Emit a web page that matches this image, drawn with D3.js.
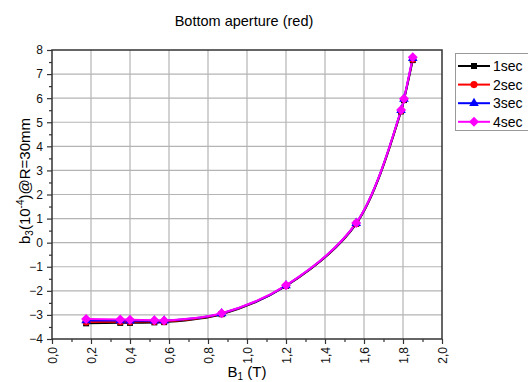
<!DOCTYPE html>
<html>
<head>
<meta charset="utf-8">
<script src="https://cdn.jsdelivr.net/npm/d3@7"></script>
<style>
	body { margin: 0; background: #fff; }
	svg { font-family: "Liberation Sans", Arial, sans-serif; }
</style>
</head>
<body>
<script>
// data
const fieldB = [0.175, 0.35, 0.40, 0.525, 0.575, 0.87, 1.20, 1.56, 1.79, 1.805, 1.85];
const sec1 = [-3.35, -3.33, -3.33, -3.31, -3.30, -2.97, -1.80, 0.78, 5.45, 5.92, 7.58];
const sec2 = [-3.29, -3.28, -3.28, -3.27, -3.27, -2.95, -1.79, 0.80, 5.48, 5.95, 7.62];
const sec3 = [-3.23, -3.23, -3.24, -3.24, -3.24, -2.94, -1.78, 0.81, 5.50, 5.97, 7.66];
const sec4 = [-3.17, -3.19, -3.20, -3.22, -3.23, -2.93, -1.77, 0.82, 5.51, 5.98, 7.70];
const seriesNames = ["1sec", "2sec", "3sec", "4sec"];
const xTicks = [0, 0.2, 0.4, 0.6, 0.8, 1.0, 1.2, 1.4, 1.6, 1.8, 2.0];
const yTicks = [-4, -3, -2, -1, 0, 1, 2, 3, 4, 5, 6, 7, 8];

const w = 528, h = 382,
	  padL = 52, padR = 442, padT = 50, padB = 339;

// wide diamond (square turned 45 degrees)
const wideDiamond = {
	draw(ctx, size) {
		const r = Math.sqrt(size / 2);
		ctx.moveTo(0, -r);
		ctx.lineTo(r, 0);
		ctx.lineTo(0, r);
		ctx.lineTo(-r, 0);
		ctx.closePath();
	}
};

const series = [
	{ name: seriesNames[0], values: sec1, color: "#000000", symbol: d3.symbolSquare, size: 36 },
	{ name: seriesNames[1], values: sec2, color: "#ff0000", symbol: d3.symbolCircle, size: 40 },
	{ name: seriesNames[2], values: sec3, color: "#0000ff", symbol: d3.symbolTriangle, size: 40 },
	{ name: seriesNames[3], values: sec4, color: "#ff00ff", symbol: wideDiamond, size: 50 }
];

const xScale = d3.scaleLinear().domain([0, 2]).range([padL, padR]),
	  yScale = d3.scaleLinear().domain([-4, 8]).range([padB, padT]);

const svg = d3.select("body").append("svg")
	.attr("width", w)
	.attr("height", h);

// grid
svg.append("g")
   .selectAll("line")
   .data(xTicks.slice(1, -1))
   .enter().append("line")
   .attr("x1", d => xScale(d)).attr("x2", d => xScale(d))
   .attr("y1", padT).attr("y2", padB)
   .attr("stroke", "#b4b4b4").attr("stroke-width", 1.2);

svg.append("g")
   .selectAll("line")
   .data(yTicks.slice(1, -1))
   .enter().append("line")
   .attr("x1", padL).attr("x2", padR)
   .attr("y1", d => yScale(d)).attr("y2", d => yScale(d))
   .attr("stroke", "#b4b4b4").attr("stroke-width", 1.2);

// axes
const fmtComma = d => d3.format(".1f")(d).replace(".", ",");

const xAxis = svg.append("g")
	.attr("transform", "translate(0," + padB + ")")
	.call(d3.axisBottom(xScale).tickValues(xTicks).tickFormat(fmtComma).tickSize(5).tickSizeOuter(0));
xAxis.selectAll("text")
	 .attr("transform", "rotate(-90)")
	 .attr("text-anchor", "end")
	 .attr("x", -8).attr("y", 0).attr("dy", "0.35em")
	 .style("font-size", "12px");

svg.append("g")
   .attr("transform", "translate(0," + padB + ")")
   .call(d3.axisBottom(xScale).tickValues(d3.range(0.1, 2, 0.2)).tickFormat("").tickSize(3).tickSizeOuter(0));

const yAxis = svg.append("g")
	.attr("transform", "translate(" + padL + ",0)")
	.call(d3.axisLeft(yScale).tickValues(yTicks).tickSize(5).tickSizeOuter(0));
yAxis.selectAll("text").style("font-size", "12px").attr("x", -9);

svg.append("g")
   .attr("transform", "translate(" + padL + ",0)")
   .call(d3.axisLeft(yScale).tickValues(d3.range(-3.5, 8, 1)).tickFormat("").tickSize(3).tickSizeOuter(0));

svg.selectAll(".domain").remove();
svg.selectAll(".tick line").attr("stroke", "#333").attr("stroke-width", 1.2);
svg.selectAll(".tick text").attr("fill", "#111");

// frame
svg.append("rect")
   .attr("x", padL).attr("y", padT)
   .attr("width", padR - padL).attr("height", padB - padT)
   .attr("fill", "none").attr("stroke", "#333").attr("stroke-width", 1.5);

// curves
const line = d3.line()
	.x((d, i) => xScale(fieldB[i]))
	.y(d => yScale(d))
	.curve(d3.curveCatmullRom.alpha(0.5));

series.forEach(s => {
	svg.append("path")
	   .attr("d", line(s.values))
	   .attr("fill", "none")
	   .attr("stroke", s.color)
	   .attr("stroke-width", 2);
});

series.forEach(s => {
	svg.append("g")
	   .selectAll("path")
	   .data(s.values)
	   .enter().append("path")
	   .attr("d", d3.symbol().type(s.symbol).size(s.size))
	   .attr("transform", (d, i) => "translate(" + xScale(fieldB[i]) + "," + yScale(d) + ")")
	   .attr("fill", s.color);
});

// title
svg.append("text")
   .attr("x", 244).attr("y", 26)
   .attr("text-anchor", "middle")
   .style("font-size", "14.5px")
   .text("Bottom aperture (red)");

// x label
const xLabel = svg.append("text")
	.attr("x", 247).attr("y", 377)
	.attr("text-anchor", "middle")
	.style("font-size", "15px");
xLabel.append("tspan").text("B");
xLabel.append("tspan").attr("dy", 3).style("font-size", "10px").text("1");
xLabel.append("tspan").attr("dy", -3).text(" (T)");

// y label
const yLabel = svg.append("text")
	.attr("transform", "translate(30,181) rotate(-90)")
	.attr("text-anchor", "middle")
	.style("font-size", "15px");
yLabel.append("tspan").text("b");
yLabel.append("tspan").attr("dy", 3).style("font-size", "10px").text("3");
yLabel.append("tspan").attr("dy", -3).text("(10");
yLabel.append("tspan").attr("dy", -6).style("font-size", "10px").text("-4");
yLabel.append("tspan").attr("dy", 6).text(")@R=30mm");

// legend
const legend = svg.append("g");
legend.append("rect")
	  .attr("x", 455.5).attr("y", 53.5)
	  .attr("width", 80).attr("height", 77)
	  .attr("fill", "#fff").attr("stroke", "#999");

series.forEach((s, i) => {
	const ly = 66 + i * 18.6;
	legend.append("line")
		  .attr("x1", 458).attr("x2", 490)
		  .attr("y1", ly).attr("y2", ly)
		  .attr("stroke", s.color).attr("stroke-width", 2);
	legend.append("path")
		  .attr("d", d3.symbol().type(s.symbol).size(s.size))
		  .attr("transform", "translate(474," + ly + ")")
		  .attr("fill", s.color);
	legend.append("text")
		  .attr("x", 493).attr("y", ly).attr("dy", "0.36em")
		  .style("font-size", "14px")
		  .text(s.name);
});
</script>
</body>
</html>
